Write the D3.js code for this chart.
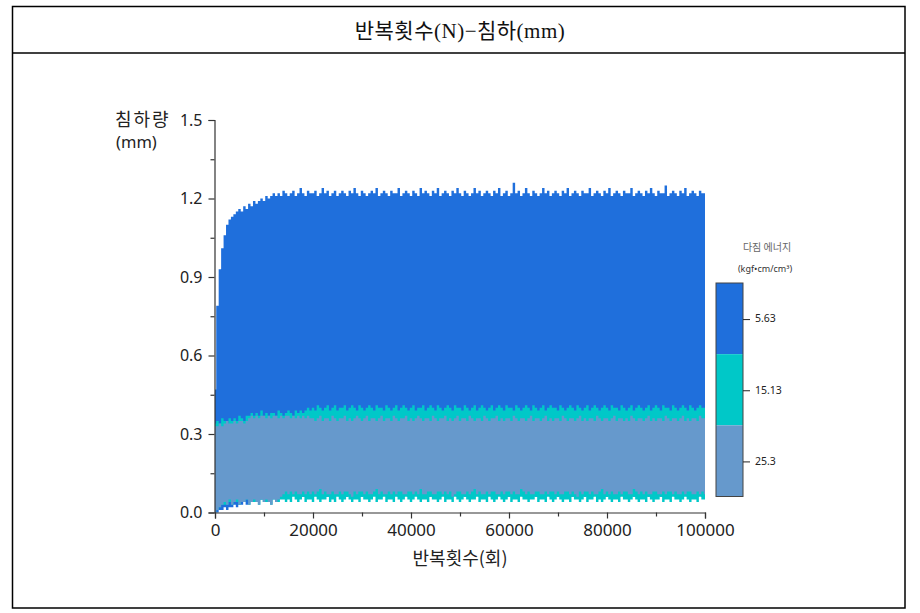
<!DOCTYPE html>
<html><head><meta charset="utf-8">
<script src="https://cdn.jsdelivr.net/npm/d3@7/dist/d3.min.js"></script>
<style>
html,body{margin:0;padding:0;background:#fff;}
svg{display:block;}
</style></head>
<body>
<script>
// ---------- data ----------
const chartTitle = "반복횟수(N)−침하(mm)";
const xLabel = "반복횟수(회)";
const yLabel = ["침하량", "(mm)"];
const legendTitle = ["다짐 에너지", "(kgf•cm/cm³)"];
const energyLabels = ["5.63", "15.13", "25.3"];
const energyColors = ["#1f6fdc", "#00c8c8", "#6699cc"];
const xTicks = [0, 20000, 40000, 60000, 80000, 100000];
const yTicks = [0.0, 0.3, 0.6, 0.9, 1.2, 1.5];
const cycleStep = 500; // one sample per 500 cycles, 0..100000 (201 samples)

// energy 5.63 — upper / lower envelope (mm)
const b5Top = [
0.47,0.79,0.93,1.01,1.06,1.10,1.12,1.13,1.14,1.15,
1.16,1.15,1.17,1.16,1.18,1.17,1.19,1.18,1.19,1.20,
1.19,1.21,1.20,1.21,1.22,1.21,1.22,1.21,1.23,1.22,
1.21,1.22,1.23,1.21,1.22,1.24,1.22,1.21,1.23,1.22,
1.22,1.23,1.21,1.22,1.24,1.22,1.23,1.21,1.22,1.23,
1.21,1.22,1.23,1.22,1.21,1.23,1.22,1.24,1.22,1.21,
1.23,1.22,1.21,1.22,1.23,1.22,1.24,1.21,1.22,1.23,
1.22,1.21,1.23,1.22,1.22,1.24,1.21,1.22,1.23,1.22,
1.21,1.23,1.22,1.21,1.24,1.22,1.23,1.22,1.21,1.23,
1.22,1.24,1.21,1.22,1.23,1.22,1.21,1.23,1.22,1.24,
1.22,1.21,1.23,1.22,1.21,1.22,1.24,1.22,1.23,1.21,
1.22,1.23,1.22,1.21,1.23,1.22,1.24,1.21,1.22,1.23,
1.21,1.22,1.26,1.22,1.23,1.21,1.22,1.24,1.22,1.21,
1.23,1.22,1.21,1.22,1.24,1.22,1.23,1.21,1.22,1.23,
1.22,1.21,1.23,1.22,1.24,1.21,1.22,1.23,1.22,1.21,
1.23,1.22,1.22,1.24,1.21,1.22,1.23,1.22,1.21,1.23,
1.22,1.24,1.21,1.22,1.23,1.22,1.21,1.23,1.22,1.22,
1.24,1.21,1.22,1.23,1.22,1.21,1.23,1.22,1.24,1.22,
1.21,1.23,1.22,1.22,1.25,1.21,1.22,1.23,1.22,1.21,
1.23,1.22,1.24,1.21,1.22,1.23,1.22,1.21,1.23,1.22,
1.22];
const b5Bot = [
0.00,0.00,0.01,0.01,0.02,0.01,0.02,0.02,0.03,0.02,
0.03,0.03,0.04,0.03,0.04,0.04,0.05,0.04,0.05,0.05,
0.06,0.07,0.06,0.07,0.06,0.06,0.07,0.06,0.07,0.06,
0.07,0.06,0.07,0.07,0.06,0.07,0.06,0.06,0.07,0.06,
0.06,0.07,0.06,0.07,0.07,0.06,0.06,0.07,0.06,0.07,
0.07,0.06,0.07,0.06,0.06,0.07,0.07,0.06,0.07,0.06,
0.06,0.07,0.06,0.07,0.06,0.07,0.07,0.06,0.06,0.07,
0.07,0.06,0.07,0.06,0.07,0.06,0.06,0.07,0.07,0.06,
0.06,0.07,0.07,0.06,0.07,0.06,0.07,0.06,0.06,0.07,
0.07,0.06,0.06,0.07,0.06,0.07,0.07,0.06,0.07,0.06,
0.06,0.07,0.06,0.07,0.07,0.06,0.06,0.07,0.06,0.07,
0.07,0.06,0.07,0.06,0.06,0.07,0.07,0.06,0.07,0.06,
0.06,0.07,0.07,0.06,0.06,0.07,0.06,0.07,0.07,0.06,
0.07,0.06,0.06,0.07,0.07,0.06,0.07,0.06,0.06,0.07,
0.06,0.07,0.07,0.06,0.07,0.06,0.06,0.07,0.07,0.06,
0.07,0.06,0.07,0.06,0.06,0.07,0.06,0.07,0.07,0.06,
0.06,0.07,0.07,0.06,0.07,0.06,0.07,0.06,0.06,0.07,
0.07,0.06,0.06,0.07,0.06,0.07,0.07,0.06,0.07,0.06,
0.06,0.07,0.06,0.07,0.07,0.06,0.06,0.07,0.06,0.07,
0.07,0.06,0.07,0.06,0.06,0.07,0.07,0.06,0.07,0.06,
0.06];

// energy 15.13
const t15Top = [
0.34,0.35,0.34,0.36,0.35,0.34,0.36,0.35,0.36,0.35,
0.37,0.36,0.35,0.37,0.37,0.38,0.37,0.38,0.37,0.39,
0.37,0.38,0.37,0.38,0.38,0.37,0.39,0.38,0.37,0.38,
0.39,0.38,0.37,0.39,0.38,0.39,0.38,0.39,0.40,0.39,
0.40,0.39,0.41,0.40,0.39,0.40,0.41,0.39,0.40,0.41,
0.39,0.40,0.40,0.41,0.39,0.40,0.41,0.40,0.39,0.41,
0.40,0.39,0.40,0.41,0.40,0.39,0.41,0.40,0.40,0.39,
0.41,0.40,0.39,0.40,0.41,0.39,0.40,0.41,0.40,0.39,
0.40,0.41,0.39,0.40,0.40,0.41,0.39,0.40,0.41,0.40,
0.39,0.41,0.40,0.39,0.40,0.41,0.40,0.39,0.41,0.40,
0.40,0.39,0.41,0.40,0.39,0.40,0.41,0.39,0.40,0.41,
0.40,0.39,0.40,0.41,0.39,0.40,0.41,0.40,0.39,0.41,
0.40,0.40,0.39,0.41,0.40,0.39,0.40,0.41,0.40,0.39,
0.41,0.40,0.39,0.40,0.41,0.39,0.40,0.41,0.40,0.40,
0.39,0.41,0.40,0.39,0.40,0.41,0.40,0.39,0.41,0.40,
0.39,0.40,0.41,0.39,0.40,0.41,0.40,0.39,0.40,0.41,
0.40,0.39,0.41,0.40,0.40,0.39,0.41,0.40,0.39,0.40,
0.41,0.39,0.40,0.41,0.40,0.39,0.40,0.41,0.39,0.40,
0.41,0.40,0.39,0.41,0.40,0.40,0.39,0.41,0.40,0.39,
0.40,0.41,0.40,0.39,0.41,0.40,0.39,0.40,0.41,0.40,
0.40];
const t15Bot = [
0.00,0.01,0.02,0.03,0.03,0.03,0.04,0.03,0.04,0.04,
0.03,0.04,0.04,0.05,0.03,0.04,0.04,0.04,0.03,0.05,
0.04,0.04,0.04,0.03,0.05,0.04,0.04,0.05,0.05,0.04,
0.05,0.04,0.06,0.05,0.04,0.05,0.06,0.04,0.05,0.05,
0.04,0.06,0.05,0.04,0.05,0.05,0.06,0.04,0.05,0.04,
0.06,0.05,0.04,0.05,0.06,0.05,0.04,0.05,0.05,0.04,
0.06,0.05,0.05,0.04,0.05,0.06,0.04,0.05,0.05,0.06,
0.04,0.05,0.05,0.04,0.06,0.05,0.04,0.05,0.06,0.05,
0.04,0.05,0.06,0.05,0.04,0.05,0.05,0.04,0.06,0.05,
0.05,0.04,0.05,0.06,0.04,0.05,0.05,0.04,0.06,0.05,
0.04,0.05,0.06,0.05,0.04,0.05,0.05,0.06,0.04,0.05,
0.05,0.04,0.06,0.05,0.04,0.05,0.06,0.05,0.04,0.05,
0.06,0.04,0.05,0.05,0.04,0.06,0.05,0.05,0.04,0.05,
0.05,0.06,0.04,0.05,0.05,0.04,0.06,0.05,0.04,0.05,
0.06,0.05,0.04,0.05,0.05,0.04,0.06,0.05,0.05,0.04,
0.05,0.06,0.04,0.05,0.05,0.06,0.04,0.05,0.04,0.05,
0.06,0.05,0.04,0.05,0.05,0.04,0.06,0.05,0.05,0.04,
0.05,0.06,0.05,0.04,0.05,0.05,0.04,0.06,0.05,0.04,
0.05,0.05,0.06,0.04,0.05,0.05,0.04,0.06,0.05,0.05,
0.04,0.05,0.06,0.05,0.04,0.05,0.05,0.04,0.06,0.05,
0.05];

// energy 25.3
const s25Top = [
0.33,0.33,0.34,0.33,0.34,0.35,0.34,0.34,0.35,0.34,
0.35,0.35,0.34,0.35,0.36,0.37,0.36,0.37,0.36,0.37,
0.37,0.36,0.37,0.36,0.37,0.37,0.36,0.37,0.36,0.37,
0.37,0.36,0.37,0.36,0.37,0.36,0.37,0.36,0.37,0.36,
0.36,0.35,0.36,0.37,0.35,0.36,0.36,0.35,0.37,0.36,
0.35,0.36,0.36,0.37,0.35,0.36,0.35,0.36,0.37,0.36,
0.35,0.36,0.37,0.35,0.36,0.36,0.35,0.36,0.37,0.35,
0.36,0.36,0.35,0.37,0.36,0.35,0.36,0.36,0.37,0.35,
0.36,0.35,0.36,0.37,0.36,0.35,0.36,0.36,0.35,0.37,
0.36,0.35,0.36,0.36,0.37,0.35,0.36,0.35,0.36,0.37,
0.35,0.36,0.36,0.35,0.37,0.36,0.35,0.36,0.36,0.35,
0.37,0.36,0.35,0.36,0.36,0.37,0.35,0.36,0.35,0.36,
0.36,0.35,0.37,0.36,0.35,0.36,0.36,0.35,0.36,0.37,
0.35,0.36,0.36,0.35,0.36,0.37,0.35,0.36,0.35,0.36,
0.36,0.35,0.37,0.36,0.35,0.36,0.36,0.35,0.36,0.37,
0.35,0.36,0.35,0.36,0.36,0.35,0.37,0.36,0.35,0.36,
0.36,0.35,0.36,0.37,0.35,0.36,0.36,0.35,0.36,0.35,
0.37,0.36,0.35,0.36,0.36,0.35,0.36,0.37,0.35,0.36,
0.35,0.36,0.36,0.35,0.37,0.36,0.35,0.36,0.36,0.35,
0.36,0.37,0.35,0.36,0.35,0.36,0.36,0.35,0.37,0.36,
0.36];
const s25Bot = [
0.00,0.01,0.02,0.03,0.04,0.03,0.05,0.03,0.04,0.05,
0.03,0.04,0.04,0.05,0.03,0.04,0.05,0.04,0.03,0.05,
0.04,0.05,0.04,0.03,0.05,0.04,0.05,0.06,0.07,0.08,
0.07,0.08,0.07,0.08,0.07,0.07,0.08,0.07,0.08,0.07,
0.08,0.07,0.08,0.09,0.07,0.08,0.07,0.07,0.08,0.07,
0.07,0.08,0.07,0.08,0.08,0.07,0.06,0.08,0.07,0.08,
0.08,0.07,0.08,0.07,0.07,0.08,0.09,0.07,0.08,0.07,
0.07,0.08,0.07,0.08,0.07,0.08,0.08,0.07,0.07,0.08,
0.08,0.07,0.08,0.07,0.09,0.07,0.07,0.08,0.08,0.07,
0.07,0.08,0.08,0.07,0.08,0.07,0.08,0.06,0.07,0.08,
0.08,0.07,0.07,0.08,0.07,0.08,0.09,0.07,0.08,0.07,
0.07,0.08,0.07,0.08,0.08,0.07,0.07,0.08,0.07,0.08,
0.08,0.07,0.08,0.07,0.07,0.09,0.08,0.07,0.08,0.07,
0.07,0.08,0.08,0.07,0.07,0.08,0.07,0.08,0.08,0.07,
0.08,0.07,0.07,0.08,0.08,0.07,0.08,0.07,0.06,0.08,
0.07,0.08,0.08,0.07,0.08,0.07,0.07,0.08,0.09,0.07,
0.08,0.07,0.08,0.07,0.07,0.08,0.07,0.08,0.08,0.07,
0.07,0.09,0.08,0.07,0.08,0.07,0.08,0.07,0.07,0.08,
0.08,0.07,0.07,0.08,0.07,0.08,0.08,0.07,0.08,0.07,
0.07,0.08,0.07,0.08,0.08,0.07,0.07,0.08,0.07,0.08,
0.07];

const bands = [
  {top: b5Top, bot: b5Bot},
  {top: t15Top, bot: t15Bot},
  {top: s25Top, bot: s25Bot}
];

// ---------- drawing ----------
const W = 920, H = 613;
const svg = d3.select("body").append("svg").attr("width", W).attr("height", H);
const sans = "'Noto Sans CJK KR', 'Noto Sans', sans-serif";
const numFont = "'Noto Sans', 'Noto Sans CJK KR', sans-serif";

// frame
svg.append("rect").attr("x", 12.5).attr("y", 6.5).attr("width", 892.5).attr("height", 601.5)
  .attr("fill", "none").attr("stroke", "#000").attr("stroke-width", 1.5);
svg.append("line").attr("x1", 12.5).attr("x2", 905).attr("y1", 53).attr("y2", 53)
  .attr("stroke", "#000").attr("stroke-width", 1.5);
svg.append("text").attr("x", 460).attr("y", 38).attr("text-anchor", "middle")
  .attr("font-family", "'Liberation Serif', 'Noto Sans CJK KR', serif")
  .attr("font-size", 21).attr("letter-spacing", 0.5).attr("fill", "#111").text(chartTitle);

const x = d3.scaleLinear().domain([0, 100000]).range([215, 705]);
const y = d3.scaleLinear().domain([0, 1.5]).range([512.5, 120]);

svg.append("clipPath").attr("id", "plotclip").append("rect")
  .attr("x", 215).attr("y", 110).attr("width", 490).attr("height", 403);

const g = svg.append("g").attr("clip-path", "url(#plotclip)");
bands.forEach((b, k) => {
  const n = Math.min(b.top.length, b.bot.length, 201);
  const area = d3.area()
    .x((d, i) => x(i * cycleStep))
    .y0((d, i) => y(b.bot[i]))
    .y1((d, i) => y(b.top[i]))
    .curve(d3.curveStep);
  g.append("path").datum(b.top.slice(0, n)).attr("d", area)
    .attr("fill", energyColors[k]).attr("stroke", "none");
});

// axes
const axisColor = "#333";
const xAxis = d3.axisBottom(x).tickValues(xTicks).tickFormat(d3.format("d")).tickSize(6).tickPadding(5);
const xMinor = d3.axisBottom(x).tickValues([10000, 30000, 50000, 70000, 90000]).tickFormat("").tickSize(4);
const yAxis = d3.axisLeft(y).tickValues(yTicks).tickFormat(d3.format(".1f")).tickSize(6).tickPadding(6);
const yMinor = d3.axisLeft(y).tickValues([0.15, 0.45, 0.75, 1.05, 1.35]).tickFormat("").tickSize(4);

function style(sel, fs) {
  sel.select(".domain").attr("stroke", axisColor).attr("stroke-width", 1.2);
  sel.selectAll(".tick line").attr("stroke", axisColor).attr("stroke-width", 1.2);
  sel.selectAll(".tick text").attr("font-family", numFont).attr("font-size", fs).attr("fill", "#222");
}
const gx = svg.append("g").attr("transform", "translate(0,512.5)").call(xAxis);
style(gx, 17);
const gxm = svg.append("g").attr("transform", "translate(0,512.5)").call(xMinor);
style(gxm, 17); gxm.select(".domain").remove();
const gy = svg.append("g").attr("transform", "translate(214.5,0)").call(yAxis);
style(gy, 16);
const gym = svg.append("g").attr("transform", "translate(214.5,0)").call(yMinor);
style(gym, 16); gym.select(".domain").remove();

// axis labels
svg.append("text").attr("x", 460).attr("y", 565).attr("text-anchor", "middle")
  .attr("font-family", sans).attr("font-size", 18).attr("fill", "#222").text(xLabel);
svg.append("text").attr("x", 115).attr("y", 126).attr("font-family", sans)
  .attr("font-size", 18).attr("letter-spacing", 2).attr("fill", "#222").text(yLabel[0]);
svg.append("text").attr("x", 116).attr("y", 148).attr("font-family", numFont)
  .attr("font-size", 16.5).attr("fill", "#222").text(yLabel[1]);

// legend (colour bar)
const legX = 716, legTop = 283, legBot = 496.5, legW = 27;
const ly = d3.scaleBand().domain(energyLabels).range([legTop, legBot]).padding(0);
const lg = svg.append("g");
lg.selectAll("rect.seg").data(energyLabels).join("rect").attr("class", "seg")
  .attr("x", legX).attr("y", d => ly(d)).attr("width", legW).attr("height", ly.bandwidth())
  .attr("fill", (d, i) => energyColors[i]);
lg.append("rect").attr("x", legX).attr("y", legTop).attr("width", legW).attr("height", legBot - legTop)
  .attr("fill", "none").attr("stroke", "#444").attr("stroke-width", 1);
lg.selectAll("line.tk").data(energyLabels).join("line").attr("class", "tk")
  .attr("x1", legX + legW).attr("x2", legX + legW + 7)
  .attr("y1", d => ly(d) + ly.bandwidth() / 2 + 1).attr("y2", d => ly(d) + ly.bandwidth() / 2 + 1)
  .attr("stroke", "#222").attr("stroke-width", 1);
lg.selectAll("text.lb").data(energyLabels).join("text").attr("class", "lb")
  .attr("x", legX + legW + 12).attr("y", d => ly(d) + ly.bandwidth() / 2 + 1)
  .attr("dominant-baseline", "middle").attr("font-family", numFont).attr("font-size", 10.5)
  .attr("fill", "#222").text(d => d);
lg.append("text").attr("x", 767).attr("y", 251).attr("text-anchor", "middle")
  .attr("font-family", sans).attr("font-size", 10).attr("fill", "#666").text(legendTitle[0]);
lg.append("text").attr("x", 765).attr("y", 272).attr("text-anchor", "middle")
  .attr("font-family", numFont).attr("font-size", 9).attr("fill", "#333").text(legendTitle[1]);
</script>
</body></html>
